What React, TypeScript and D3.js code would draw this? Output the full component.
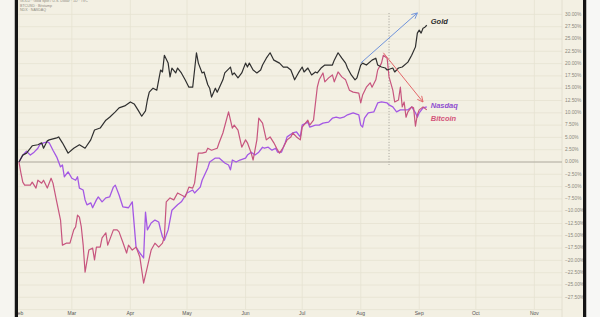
import React from "react";
import * as d3 from "d3";

// ---- data (percent change since Feb 1, 2025) ----
const goldSeries: [string, number][] = [
  ["02-01",0],["02-03",1.4],["02-05",1.8],["02-08",3.3],["02-11",3.5],["02-13",3.9],["02-14",2.8],["02-16",4.3],
  ["02-17",4.5],["02-21",4.9],["02-22",5.1],["02-24",3.9],["02-27",1.8],["03-02",2.8],["03-05",3.5],["03-08",2.8],
  ["03-11",4.5],["03-13",6.5],["03-16",6.9],["03-19",8.5],["03-21",9.1],["03-24",10.2],["03-26",11.0],["03-29",11.4],
  ["04-01",12.2],["04-03",11.8],["04-05",10.6],["04-07",9.3],["04-09",10.4],["04-10",12.6],["04-11",14.2],["04-13",15.0],
  ["04-15",14.6],["04-17",18.7],["04-18",18.3],["04-19",21.7],["04-21",20.1],["04-22",17.3],["04-23",19.1],["04-25",18.1],
  ["04-26",19.1],["04-28",18.1],["04-30",16.7],["05-02",15.2],["05-04",15.2],["05-06",22.2],["05-07",20.1],["05-09",18.1],
  ["05-10",18.3],["05-12",15.7],["05-13",15.0],["05-14",13.2],["05-16",15.0],["05-17",14.2],["05-20",16.7],["05-21",18.1],
  ["05-24",19.3],["05-25",17.7],["05-26",18.1],["05-28",17.1],["05-30",18.1],["06-01",20.1],["06-02",19.3],["06-03",20.1],
  ["06-05",18.7],["06-07",18.1],["06-09",18.7],["06-10",19.7],["06-12",21.1],["06-14",22.2],["06-16",20.7],["06-18",20.3],
  ["06-19",20.1],["06-21",19.3],["06-23",19.3],["06-25",18.7],["06-27",16.7],["06-29",18.1],["07-01",19.3],["07-02",18.3],
  ["07-04",19.1],["07-06",17.7],["07-08",18.3],["07-09",18.1],["07-11",19.1],["07-13",19.7],["07-17",19.7],["07-18",20.7],
  ["07-20",22.2],["07-22",21.1],["07-24",20.1],["07-25",19.1],["07-27",17.7],["07-29",16.7],["07-30",17.1],["08-01",19.7],
  ["08-02",20.1],["08-04",19.7],["08-07",20.7],["08-09",21.1],["08-10",19.7],["08-12",19.3],["08-14",19.1],["08-15",18.7],
  ["08-18",19.1],["08-19",18.3],["08-21",19.1],["08-23",19.3],["08-26",20.3],["08-28",21.7],["08-30",23.4],["08-31",26.2],
  ["09-01",26.8],["09-02",26.2],["09-03",27.2],["09-04",27.4],["09-05",27.8],
];

const bitcoinSeries: [string, number][] = [
  ["02-01",0],["02-02",-2.2],["02-03",-4.1],["02-04",-4.7],["02-07",-4.7],["02-08",-4.1],["02-10",-5.3],["02-11",-3.7],
  ["02-13",-4.3],["02-14",-3.7],["02-16",-5.3],["02-18",-3.3],["02-19",-4.3],["02-21",-8.1],["02-23",-11.8],["02-24",-16.9],
  ["02-26",-16.5],["02-28",-16.5],["03-02",-13.8],["03-03",-13.2],["03-04",-10.8],["03-05",-11.2],["03-06",-13.2],["03-07",-16.9],
  ["03-08",-22.4],["03-10",-17.9],["03-12",-17.5],["03-13",-19.9],["03-14",-17.3],["03-16",-17.3],["03-17",-15.4],["03-19",-14.4],
  ["03-20",-16.9],["03-23",-13.8],["03-25",-13.8],["03-26",-14.2],["03-28",-16.3],["03-30",-18.5],["03-31",-16.9],["04-02",-17.9],
  ["04-04",-17.3],["04-06",-19.3],["04-08",-24.6],["04-10",-21.3],["04-12",-17.9],["04-14",-16.5],["04-16",-17.3],["04-18",-16.5],
  ["04-19",-15.2],["04-20",-8.1],["04-22",-7.3],["04-24",-7.7],["04-26",-6.3],["04-28",-6.7],["04-30",-7.1],["05-02",-5.1],
  ["05-04",-5.3],["05-05",-4.3],["05-07",1.8],["05-09",1.8],["05-11",2.0],["05-12",2.8],["05-14",2.4],["05-17",2.8],
  ["05-18",3.9],["05-20",5.9],["05-23",10.2],["05-25",6.9],["05-26",7.5],["05-28",6.5],["05-30",3.0],["06-01",4.5],
  ["06-02",3.9],["06-04",1.8],["06-05",0.4],["06-07",4.5],["06-08",8.9],["06-10",7.9],["06-12",4.5],["06-14",5.1],
  ["06-16",3.9],["06-18",2.4],["06-19",1.8],["06-21",3.0],["06-23",4.5],["06-25",5.1],["06-26",5.9],["06-28",5.1],
  ["06-30",4.5],["07-01",7.1],["07-04",8.5],["07-05",7.5],["07-07",8.5],["07-09",15.2],["07-10",16.7],["07-12",18.1],
  ["07-13",16.3],["07-15",17.1],["07-17",17.7],["07-18",16.3],["07-20",18.3],["07-22",17.3],["07-24",16.7],["07-26",14.6],
  ["07-28",14.2],["07-31",14.0],["08-01",12.0],["08-02",13.6],["08-04",15.2],["08-06",16.1],["08-07",15.2],["08-09",16.7],
  ["08-10",18.7],["08-12",20.1],["08-13",21.7],["08-15",21.1],["08-16",17.3],["08-18",14.6],["08-19",12.2],["08-21",12.6],
  ["08-22",15.2],["08-23",11.2],["08-24",12.2],["08-25",9.1],["08-26",10.2],["08-28",11.2],["08-29",11.0],["08-30",7.3],
  ["08-31",9.6],["09-01",10.6],["09-03",11.2],["09-05",10.6],
];

const nasdaqSeries: [string, number][] = [
  ["02-01",0],["02-03",1.4],["02-05",2.2],["02-07",1.4],["02-09",2.0],["02-11",2.8],["02-12",3.5],["02-14",3.9],
  ["02-16",4.1],["02-17",3.9],["02-19",2.4],["02-21",1.0],["02-23",-1.0],["02-24",-0.6],["02-25",-3.0],["02-27",-2.0],
  ["03-01",-3.3],["03-03",-3.7],["03-04",-3.0],["03-05",-5.3],["03-07",-5.7],["03-08",-7.7],["03-09",-8.7],["03-11",-8.3],
  ["03-12",-9.3],["03-14",-7.7],["03-15",-7.1],["03-17",-8.1],["03-19",-7.3],["03-21",-7.1],["03-23",-5.1],["03-24",-4.7],
  ["03-26",-6.7],["03-28",-9.1],["03-31",-9.3],["04-02",-8.1],["04-04",-17.3],["04-06",-18.5],["04-08",-19.5],["04-09",-10.2],
  ["04-10",-13.8],["04-12",-12.4],["04-14",-11.8],["04-16",-12.2],["04-17",-13.8],["04-18",-15.2],["04-19",-15.9],["04-21",-13.8],
  ["04-23",-9.8],["04-26",-8.7],["04-28",-8.1],["05-01",-6.3],["05-04",-5.7],["05-05",-6.3],["05-08",-5.1],["05-09",-3.7],
  ["05-12",-1.2],["05-13",0],["05-16",0.8],["05-18",0.8],["05-21",-0.2],["05-23",-0.6],["05-24",-1.6],["05-25",0.4],
  ["05-27",0],["05-29",0.4],["06-01",0.8],["06-02",1.4],["06-04",2.0],["06-06",1.4],["06-08",2.0],["06-10",3.0],
  ["06-11",2.8],["06-13",3.0],["06-15",2.4],["06-17",2.8],["06-18",2.0],["06-20",2.0],["06-22",3.9],["06-23",5.1],
  ["06-26",5.9],["06-28",6.1],["06-30",5.1],["07-01",7.5],["07-04",8.1],["07-05",7.1],["07-08",7.5],["07-10",7.5],
  ["07-12",7.9],["07-15",8.1],["07-17",8.9],["07-19",9.1],["07-21",8.9],["07-23",9.1],["07-25",9.6],["07-28",10.0],
  ["07-31",9.6],["08-01",7.5],["08-02",7.1],["08-03",8.9],["08-05",10.0],["08-08",10.2],["08-10",12.0],["08-12",12.2],
  ["08-15",12.0],["08-16",11.6],["08-18",11.2],["08-20",10.2],["08-22",10.6],["08-24",10.6],["08-26",10.6],["08-28",11.2],
  ["08-30",10.0],["08-31",9.1],["09-01",10.0],["09-03",11.0],["09-05",11.2],
];

const yTicks: number[] = d3.range(-27.5, 30.01, 2.5);
const monthTicks: string[] = ["02-01","03-01","04-01","05-01","06-01","07-01","08-01","09-01","10-01","11-01"];
const legendLines: string[] = ["GOLD · Gold Spot / U.S. Dollar · 1D · TVC", "BTCUSD · Bitstamp", "NDX · NASDAQ"];

// annotations: [date, value]
const blueArrow: [string, number][] = [["08-01", 20.1], ["08-31", 30.3]];
const redArrow: [string, number][] = [["08-13", 22.2], ["09-03", 12.2]];
const markerLine: [string, number][] = [["08-16", 30.3], ["08-16", -0.6]];
const seriesLabels: { name: string; date: string; value: number; color: string; weight: number }[] = [
  { name: "Gold", date: "09-05", value: 28.4, color: "#2e2e2e", weight: 700 },
  { name: "Nasdaq", date: "09-05", value: 11.3, color: "#8f4fd0", weight: 600 },
  { name: "Bitcoin", date: "09-05", value: 8.7, color: "#d4557a", weight: 600 },
];

const parse = (s: string) => new Date(2025, +s.slice(0, 2) - 1, +s.slice(3, 5));

export default function App() {
  const W = 600, H = 317;
  const plotL = 18, plotR = 562;
  const x = d3.scaleTime().domain([parse("02-01"), parse("11-01")]).range([19, 534.4]);
  const y = d3.scaleLinear().domain([0, 30]).range([162, 14.4]);
  const line = d3.line<[string, number]>().x((d) => x(parse(d[0]))).y((d) => y(d[1]));
  const fmt = (v: number) => (v < 0 ? "\u2212" : "") + Math.abs(v).toFixed(2) + "%";
  const font = "'Liberation Sans', Arial, sans-serif";
  const bottom = y(-30);

  return (
    <svg width={W} height={H} style={{ position: "absolute", left: 0, top: 0 }} fontFamily={font}>
      <defs>
        <marker id="arrBlue" viewBox="0 0 10 10" refX="9" refY="5" markerWidth="7" markerHeight="7" orient="auto">
          <path d="M1,1 L9,5 L1,9" fill="none" stroke="#6f93db" strokeWidth="1.3" />
        </marker>
        <marker id="arrRed" viewBox="0 0 10 10" refX="9" refY="5" markerWidth="7" markerHeight="7" orient="auto">
          <path d="M1,1 L9,5 L1,9" fill="none" stroke="#e3676a" strokeWidth="1.3" />
        </marker>
      </defs>
      <rect x={0} y={0} width={W} height={H} fill="#f6f5f0" />
      <rect x={plotL} y={0} width={583 - plotL} height={H} fill="#f3f0e3" />
      {yTicks.concat([-30]).map((t) => (
        <line key={"h" + t} x1={plotL} x2={plotR} y1={y(t)} y2={y(t)} stroke="#e6e2d2" strokeWidth={0.8} />
      ))}
      {monthTicks.map((m) => (
        <line key={"v" + m} x1={x(parse(m))} x2={x(parse(m))} y1={0} y2={bottom} stroke="#e6e2d2" strokeWidth={0.8} />
      ))}
      <line x1={plotR} x2={plotR} y1={0} y2={H} stroke="#dedacb" strokeWidth={0.8} />
      <line x1={plotL} x2={plotR} y1={y(0)} y2={y(0)} stroke="#a9a69b" strokeWidth={0.9} />
      <line
        x1={x(parse(markerLine[0][0]))} x2={x(parse(markerLine[1][0]))}
        y1={y(markerLine[0][1])} y2={y(markerLine[1][1])}
        stroke="#b9b6ad" strokeWidth={1.2} strokeDasharray="1.2 1.6"
      />
      <path d={line(nasdaqSeries) || ""} fill="none" stroke="#a458e4" strokeWidth={1.3} strokeLinejoin="round" />
      <path d={line(bitcoinSeries) || ""} fill="none" stroke="#c7557e" strokeWidth={1.2} strokeLinejoin="round" />
      <path d={line(goldSeries) || ""} fill="none" stroke="#2f2f2f" strokeWidth={1.2} strokeLinejoin="round" />
      <line x1={x(parse(blueArrow[0][0]))} y1={y(blueArrow[0][1])} x2={x(parse(blueArrow[1][0]))} y2={y(blueArrow[1][1])}
        stroke="#6f93db" strokeWidth={1} markerEnd="url(#arrBlue)" />
      <line x1={x(parse(redArrow[0][0]))} y1={y(redArrow[0][1])} x2={x(parse(redArrow[1][0]))} y2={y(redArrow[1][1])}
        stroke="#e3676a" strokeWidth={1} markerEnd="url(#arrRed)" />
      {seriesLabels.map((l) => (
        <text key={l.name} x={x(parse(l.date)) + 4} y={y(l.value)} fontSize={7.5} fontStyle="italic" fontWeight={l.weight}
          fill={l.color} dominantBaseline="middle">{l.name}</text>
      ))}
      {yTicks.map((t) => (
        <text key={"yl" + t} x={565} y={y(t)} fontSize={4.8} fill="#8b887d" dominantBaseline="middle">{fmt(t)}</text>
      ))}
      {monthTicks.map((m) => (
        <text key={"xl" + m} x={x(parse(m))} y={314} fontSize={5} fill="#555" textAnchor="middle" dominantBaseline="middle">
          {d3.timeFormat("%b")(parse(m))}
        </text>
      ))}
      {legendLines.map((t, i) => (
        <text key={"lg" + i} x={20} y={1.5 + i * 4.2} fontSize={3.6} fill="#8d8a80" dominantBaseline="middle">{t}</text>
      ))}
      <rect x={14.5} y={0} width={3.5} height={H} fill="#141414" />
      <rect x={583} y={0} width={3.5} height={H} fill="#141414" />
      <rect x={0} y={0} width={14.5} height={H} fill="#f6f5f0" />
      <rect x={586.5} y={0} width={13.5} height={H} fill="#f7f7f5" />
    </svg>
  );
}
